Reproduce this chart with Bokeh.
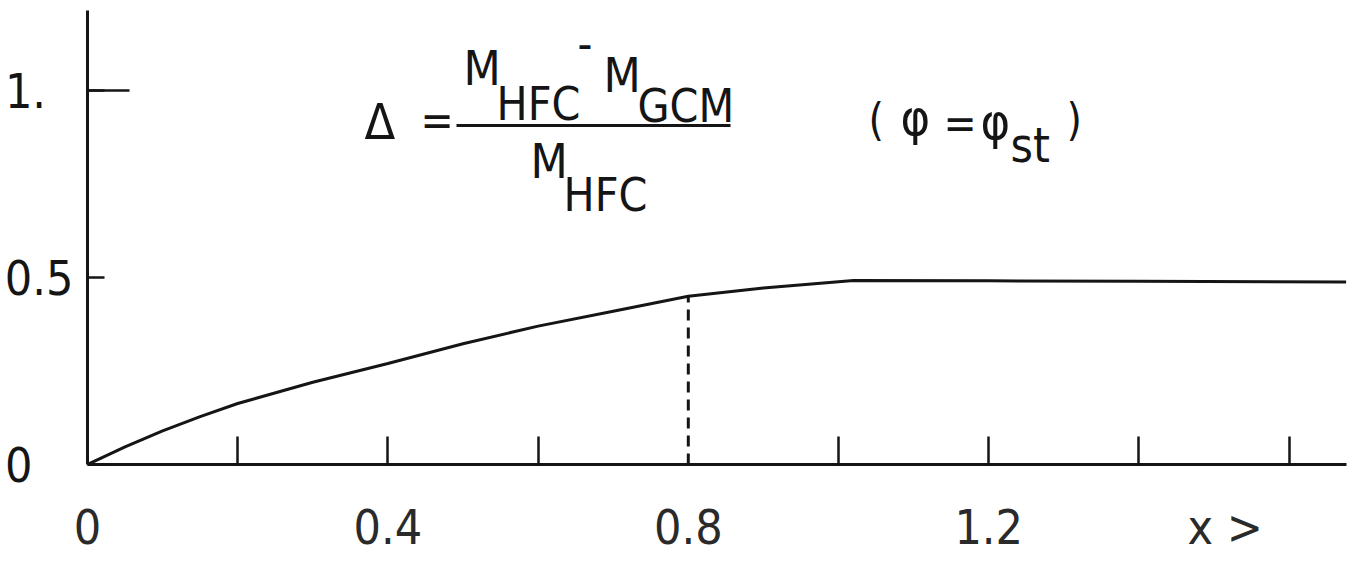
from bokeh.plotting import figure
from bokeh.models import Range1d, FixedTicker, Label, BoxAnnotation, LinearAxis
from bokeh.embed import file_html
from bokeh.resources import INLINE

# ---- data ----
x_vals = [0.0, 0.05, 0.1, 0.15, 0.2, 0.3, 0.4, 0.5, 0.6, 0.7, 0.8, 0.9, 1.02, 1.2, 1.4, 1.676]
delta = [0.0, 0.047, 0.09, 0.128, 0.163, 0.22, 0.27, 0.323, 0.37, 0.41, 0.45, 0.472, 0.492, 0.491, 0.49, 0.488]
marker_x = [0.8]
marker_top = [0.45]
x_label_ticks = [0, 0.4, 0.8, 1.2, 1.515]
x_label_text = ["0", "0.4", "0.8", "1.2", "x >"]
x_mark_ticks = [0.2, 0.4, 0.6, 1.0, 1.2, 1.4, 1.6]
y_label_ticks = [0, 0.5, 1.0]
y_label_text = ["0", "0.5", "1."]
y_long_ticks = [1.0]

FONT = "'DejaVu Sans Condensed', 'Liberation Sans', sans-serif"
INK = "#151515"
NBSP = "\u00a0"
# hand lettering of the y labels is not right-aligned: pad to mimic
y_label_pad = [3, 0, 2]

W, H = 1356, 562
LEFT, RIGHT, TOP, BOTTOM = 87, 10, 10, 98
PX_X = 751.0   # pixels per x unit
PX_Y = 374.0   # pixels per y unit
x_end = (W - LEFT - RIGHT) / PX_X
y_end = (H - TOP - BOTTOM) / PX_Y

p = figure(width=W, height=H, x_range=Range1d(0, x_end), y_range=Range1d(0, y_end),
           output_backend="svg", toolbar_location=None,
           x_axis_type=None, y_axis_type=None,
           min_border_left=LEFT, min_border_right=RIGHT,
           min_border_top=TOP, min_border_bottom=BOTTOM)
p.outline_line_color = None
p.xgrid.visible = False
p.ygrid.visible = False
p.background_fill_color = "white"
p.border_fill_color = "white"

xaxis = LinearAxis(ticker=FixedTicker(ticks=x_label_ticks, minor_ticks=x_mark_ticks),
                   major_label_overrides=dict(zip(x_label_ticks, x_label_text)))
xaxis.axis_line_width = 3
xaxis.axis_line_color = INK
xaxis.major_tick_in = 0
xaxis.major_tick_out = 0
xaxis.minor_tick_in = 28
xaxis.minor_tick_out = 0
xaxis.minor_tick_line_width = 2.5
xaxis.minor_tick_line_color = INK
xaxis.major_label_text_font = FONT
xaxis.major_label_text_font_size = "48px"
xaxis.major_label_text_color = "#2a2a2a"
xaxis.major_label_standoff = 34
p.add_layout(xaxis, "below")

y_overrides = {t: s + NBSP * n for t, s, n in zip(y_label_ticks, y_label_text, y_label_pad)}
yaxis = LinearAxis(ticker=FixedTicker(ticks=y_label_ticks, minor_ticks=y_long_ticks),
                   major_label_overrides=y_overrides)
yaxis.axis_line_width = 3
yaxis.axis_line_color = INK
yaxis.major_tick_in = 17
yaxis.major_tick_out = 0
yaxis.major_tick_line_width = 2.5
yaxis.major_tick_line_color = INK
yaxis.minor_tick_in = 42
yaxis.minor_tick_out = 0
yaxis.minor_tick_line_width = 2.5
yaxis.minor_tick_line_color = INK
yaxis.major_label_text_font = FONT
yaxis.major_label_text_font_size = "48px"
yaxis.major_label_text_color = INK
yaxis.major_label_standoff = 14
yaxis.major_label_orientation = "horizontal"
p.add_layout(yaxis, "left")

# curve and dashed marker
p.line(x_vals, delta, line_width=3, line_color=INK)
p.segment(x0=marker_x, y0=[0] * len(marker_x), x1=marker_x, y1=marker_top,
          line_width=3, line_color=INK, line_dash="11 7")


def dx(px):
    return (px - LEFT) / PX_X


def dy(py):
    return (H - BOTTOM - py) / PX_Y


def lab(text, px, py, size, align="left", style="normal"):
    # glyph bottom (baseline) wanted at pixel row py
    shift = 0.38 * size
    p.add_layout(Label(x=dx(px), y=dy(py - shift), text=text, text_font=FONT,
                       text_font_size=f"{size}px", text_align=align,
                       text_baseline="alphabetic", text_color=INK,
                       text_font_style=style))


# equation: Delta = (M_HFC - M_GCM) / M_HFC   ( phi = phi_st )
lab("\u0394", 364, 140, 50)
lab("=", 420, 137, 44)
lab("M", 463, 86, 48)
lab("HFC", 496, 121, 46)
lab("-", 577, 60, 46)
lab("M", 603, 93, 48)
lab("GCM", 637, 123, 46)
p.add_layout(BoxAnnotation(left=dx(456), right=dx(730), top=dy(123.5), bottom=dy(126.5),
                           fill_color=INK, fill_alpha=1, line_color=None))
lab("M", 530, 179, 48)
lab("HFC", 563, 212, 46)

lab("(", 868, 136, 44)
lab("\u03c6", 900, 136, 50)
lab("=", 943, 140, 44)
lab("\u03c6", 980, 140, 50)
lab("st", 1010, 163, 48)
lab(")", 1066, 136, 44)

open("out.html", "w").write(file_html(p, INLINE))
